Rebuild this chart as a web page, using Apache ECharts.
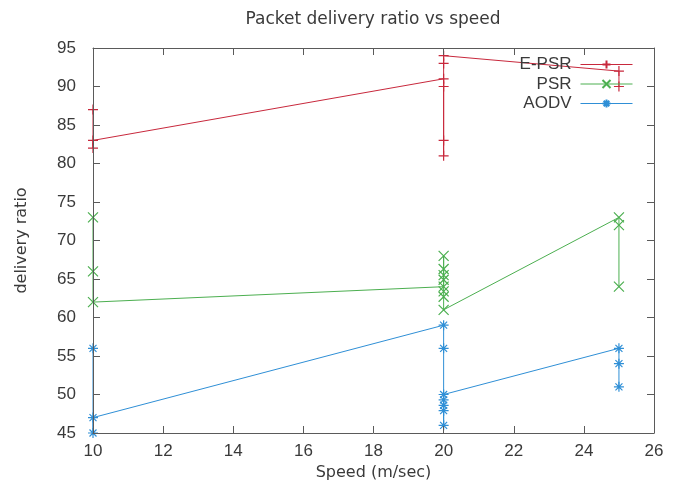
<!DOCTYPE html>
<html>
<head>
<meta charset="utf-8">
<script src="https://cdn.jsdelivr.net/npm/echarts@6/dist/echarts.min.js"></script>
<style>
html,body{margin:0;padding:0;background:#fff;}
#chart{width:678px;height:493px;}
</style>
</head>
<body>
<div id="chart"></div>
<script>
// Data (points are connected in this order)
const seriesNames = ['E-PSR', 'PSR', 'AODV'];
const epsrX = [10, 10, 10, 20, 20, 20, 20, 20, 20, 25, 25];
const epsrY = [87, 82, 83, 91, 90, 83, 81, 93, 94, 92, 90];
const psrX  = [10, 10, 10, 20, 20, 20, 20, 20, 20, 20, 20, 25, 25, 25];
const psrY  = [73, 66, 62, 64, 68, 66.3, 65.5, 64.9, 63.4, 62.7, 61, 73, 72, 64];
const aodvX = [10, 10, 10, 20, 20, 20, 20, 20, 20, 20, 25, 25, 25];
const aodvY = [56, 45, 47, 59, 56, 46, 47.9, 48.6, 49.3, 50, 56, 54, 51];
const xTicks = [10, 12, 14, 16, 18, 20, 22, 24, 26];
const yTicks = [45, 50, 55, 60, 65, 70, 75, 80, 85, 90, 95];

const colors = ['#c8283c', '#4caf50', '#2f8fd6'];
const symbols = [
  'path://M0,5L10,5M5,0L5,10',
  'path://M0,0L10,10M0,10L10,0',
  'path://M0,5L10,5M5,0L5,10M1.5,1.5L8.5,8.5M1.5,8.5L8.5,1.5'
];
function pairs(xs, ys){ return xs.map((x,i)=>[x, ys[i]]); }
const datas = [pairs(epsrX, epsrY), pairs(psrX, psrY), pairs(aodvX, aodvY)];

const axisColor = '#5a5a5a';
const textColor = '#3a3a3a';
const tickFont = 'Liberation Sans';
const baseAxis = {
  type: 'value',
  axisLine: {show: true, lineStyle: {color: axisColor, width: 1}},
  axisTick: {show: true, inside: true, length: 7, lineStyle: {color: axisColor}},
  splitLine: {show: false},
  z: 3
};

const chart = echarts.init(document.getElementById('chart'), null, {renderer: 'canvas'});
chart.setOption({
  animation: false,
  backgroundColor: '#ffffff',
  title: {
    text: 'Packet delivery ratio vs speed',
    left: 368, top: 6, textAlign: 'center',
    textStyle: {fontFamily: 'DejaVu Sans', fontSize: 17, fontWeight: 'normal', color: textColor}
  },
  grid: {left: 93, right: 24, top: 48, bottom: 60},
  legend: {
    orient: 'vertical', align: 'right', right: 40, top: 51,
    itemWidth: 52, itemHeight: 10, itemGap: 2.5,
    data: seriesNames,
    lineStyle: {width: 1},
    textStyle: {fontFamily: tickFont, fontSize: 17, color: textColor, padding: [0, 4, 0, 0]}
  },
  xAxis: [
    Object.assign({}, baseAxis, {
      min: xTicks[0], max: xTicks[xTicks.length-1], interval: 2, position: 'bottom',
      name: 'Speed (m/sec)', nameLocation: 'middle', nameGap: 30,
      nameTextStyle: {fontFamily: 'DejaVu Sans', fontSize: 16, color: textColor},
      axisLabel: {fontFamily: tickFont, fontSize: 17, color: textColor, margin: 10}
    }),
    Object.assign({}, baseAxis, {
      min: xTicks[0], max: xTicks[xTicks.length-1], interval: 2, position: 'top',
      axisLabel: {show: false}
    })
  ],
  yAxis: [
    Object.assign({}, baseAxis, {
      min: yTicks[0], max: yTicks[yTicks.length-1], interval: 5, position: 'left',
      name: 'delivery ratio', nameLocation: 'middle', nameGap: 63, nameRotate: 90,
      nameTextStyle: {fontFamily: 'DejaVu Sans', fontSize: 16, color: textColor},
      axisLabel: {fontFamily: tickFont, fontSize: 17, color: textColor, margin: 17}
    }),
    Object.assign({}, baseAxis, {
      min: yTicks[0], max: yTicks[yTicks.length-1], interval: 5, position: 'right',
      axisLabel: {show: false}
    })
  ],
  series: seriesNames.map((n, i) => ({
    name: n,
    type: 'line',
    xAxisIndex: 0, yAxisIndex: 0,
    data: datas[i],
    clip: false,
    symbol: symbols[i],
    symbolSize: 10,
    showAllSymbol: true,
    lineStyle: {color: colors[i], width: 1},
    itemStyle: {color: colors[i], borderColor: colors[i], borderWidth: 1.2},
    emphasis: {disabled: true},
    z: 2
  }))
});
</script>
</body>
</html>
